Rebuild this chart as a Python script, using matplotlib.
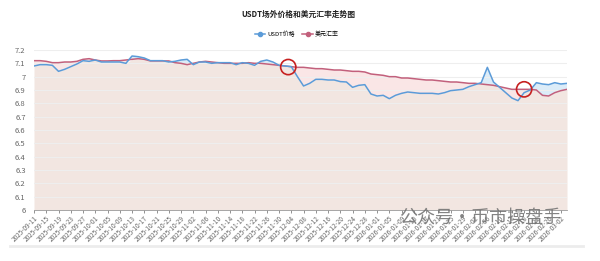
import matplotlib
matplotlib.use("Agg")
import matplotlib.pyplot as plt
import matplotlib.dates as mdates
from matplotlib.lines import Line2D
import numpy as np
import pandas as pd

plt.rcParams['font.family'] = ['Noto Sans CJK SC', 'DejaVu Sans']

# data: one value every 2 days, starting 2025-09-11
start_date = "2025-09-11"
usdt_price = [
    7.08, 7.09, 7.09, 7.085, 7.04, 7.055, 7.075, 7.095, 7.12, 7.115,
    7.125, 7.11, 7.11, 7.11, 7.11, 7.10, 7.155, 7.15, 7.14, 7.12,
    7.12, 7.12, 7.11, 7.115, 7.125, 7.13, 7.09, 7.11, 7.11, 7.10,
    7.105, 7.105, 7.105, 7.09, 7.105, 7.10, 7.085, 7.115, 7.125, 7.11,
    7.085, 7.08, 7.075, 7.00, 6.93, 6.95, 6.98, 6.98, 6.975, 6.975,
    6.963, 6.96, 6.92, 6.935, 6.94, 6.87, 6.855, 6.86, 6.835, 6.86,
    6.875, 6.885, 6.88, 6.875, 6.875, 6.875, 6.87, 6.88, 6.895, 6.90,
    6.905, 6.925, 6.94, 6.955, 7.07, 6.96, 6.92, 6.88, 6.84, 6.82,
    6.88, 6.90, 6.955, 6.945, 6.94, 6.955, 6.945, 6.95,
]
usd_rate = [
    7.12, 7.12, 7.115, 7.105, 7.105, 7.11, 7.11, 7.115, 7.13, 7.135,
    7.125, 7.118, 7.118, 7.12, 7.12, 7.125, 7.13, 7.135, 7.13, 7.118,
    7.118, 7.118, 7.118, 7.105, 7.10, 7.09, 7.10, 7.11, 7.115, 7.11,
    7.105, 7.10, 7.10, 7.10, 7.10, 7.105, 7.10, 7.10, 7.095, 7.09,
    7.085, 7.08, 7.075, 7.07, 7.07, 7.065, 7.06, 7.06, 7.055, 7.05,
    7.05, 7.045, 7.04, 7.04, 7.035, 7.02, 7.015, 7.01, 7.00, 7.00,
    6.99, 6.99, 6.985, 6.98, 6.975, 6.975, 6.97, 6.965, 6.96, 6.96,
    6.955, 6.95, 6.95, 6.945, 6.94, 6.935, 6.925, 6.915, 6.905, 6.905,
    6.905, 6.905, 6.90, 6.86, 6.855, 6.88, 6.895, 6.905,
]
# red circles marking the crossings
mark_dates = ["2025-12-03", "2026-02-18"]
mark_values = [7.072, 6.905]

series_labels = ["USDT价格", "美元汇率"]
title = "USDT场外价格和美元汇率走势图"
watermark = "公众号·币市操盘手"

blue = '#5b9bd8'
red = '#c2607c'

dates = pd.date_range(start_date, periods=len(usdt_price), freq='2D')
u = np.array(usdt_price)
r = np.array(usd_rate)

fig = plt.figure(figsize=(6, 2.61), dpi=100)
ax = fig.add_axes([34 / 600, 1 - 210 / 261, 533 / 600, 160 / 261])

# overlap of both areas, then the gaps between the two lines
ax.fill_between(dates, np.minimum(u, r), 6, color='#f2e6e1', lw=0, zorder=1)
ax.fill_between(dates, u, r, where=r >= u, interpolate=True, color='#fae6e6', lw=0, zorder=1)
ax.fill_between(dates, u, r, where=u >= r, interpolate=True, color='#dcecf8', lw=0, zorder=1)
ax.plot(dates, r, color=red, lw=1.1, zorder=3)
ax.plot(dates, u, color=blue, lw=1.1, zorder=3)
ax.scatter(pd.to_datetime(mark_dates), mark_values, s=120, facecolors='none',
           edgecolors='#c62020', linewidths=1.2, zorder=4)

ax.set_ylim(6, 7.2)
ax.set_xlim(dates[0], dates[-1])
ax.set_yticks([6 + i / 10 for i in range(13)])
ax.set_yticklabels(['6' if i == 0 else ('7' if i == 10 else f"{6 + i / 10:.1f}") for i in range(13)])
tick_dates = pd.date_range(start_date, dates[-1], freq='4D')
ax.set_xticks(tick_dates)
ax.xaxis.set_major_formatter(mdates.DateFormatter('%Y-%m-%d'))
plt.setp(ax.get_xticklabels(), rotation=45, ha='right', rotation_mode='anchor')
ax.tick_params(axis='x', labelsize=4.6, colors='#666666', length=2, width=0.5, pad=1)
ax.tick_params(axis='y', labelsize=5.5, colors='#666666', length=0, pad=6)
ax.grid(axis='y', color='#eeeeee', lw=0.8, zorder=0)
for s in ['top', 'right', 'left']:
    ax.spines[s].set_visible(False)
ax.spines['bottom'].set_color('#999999')
ax.spines['bottom'].set_linewidth(0.6)

fig.text(0.497, 1 - 14 / 261, title, ha='center', va='center', fontsize=5.6, fontweight='bold', color='#222222')
handles = [Line2D([], [], color=blue, marker='o', ms=3, lw=1.1),
           Line2D([], [], color=red, marker='o', ms=3, lw=1.1)]
fig.legend(handles, series_labels, loc='center', bbox_to_anchor=(0.495, 1 - 34 / 261), ncol=2,
           frameon=False, fontsize=4.3, handlelength=1.7, columnspacing=1.2, handletextpad=0.4)

fig.text(480 / 600, 1 - 218 / 261, watermark, ha='center', va='center', fontsize=13,
         color='#6e6e6e', alpha=0.85)
fig.add_artist(Line2D([10 / 600, 583 / 600], [1 - 246 / 261] * 2, color='#ececec', lw=2))

fig.savefig('out.png', dpi=100)
